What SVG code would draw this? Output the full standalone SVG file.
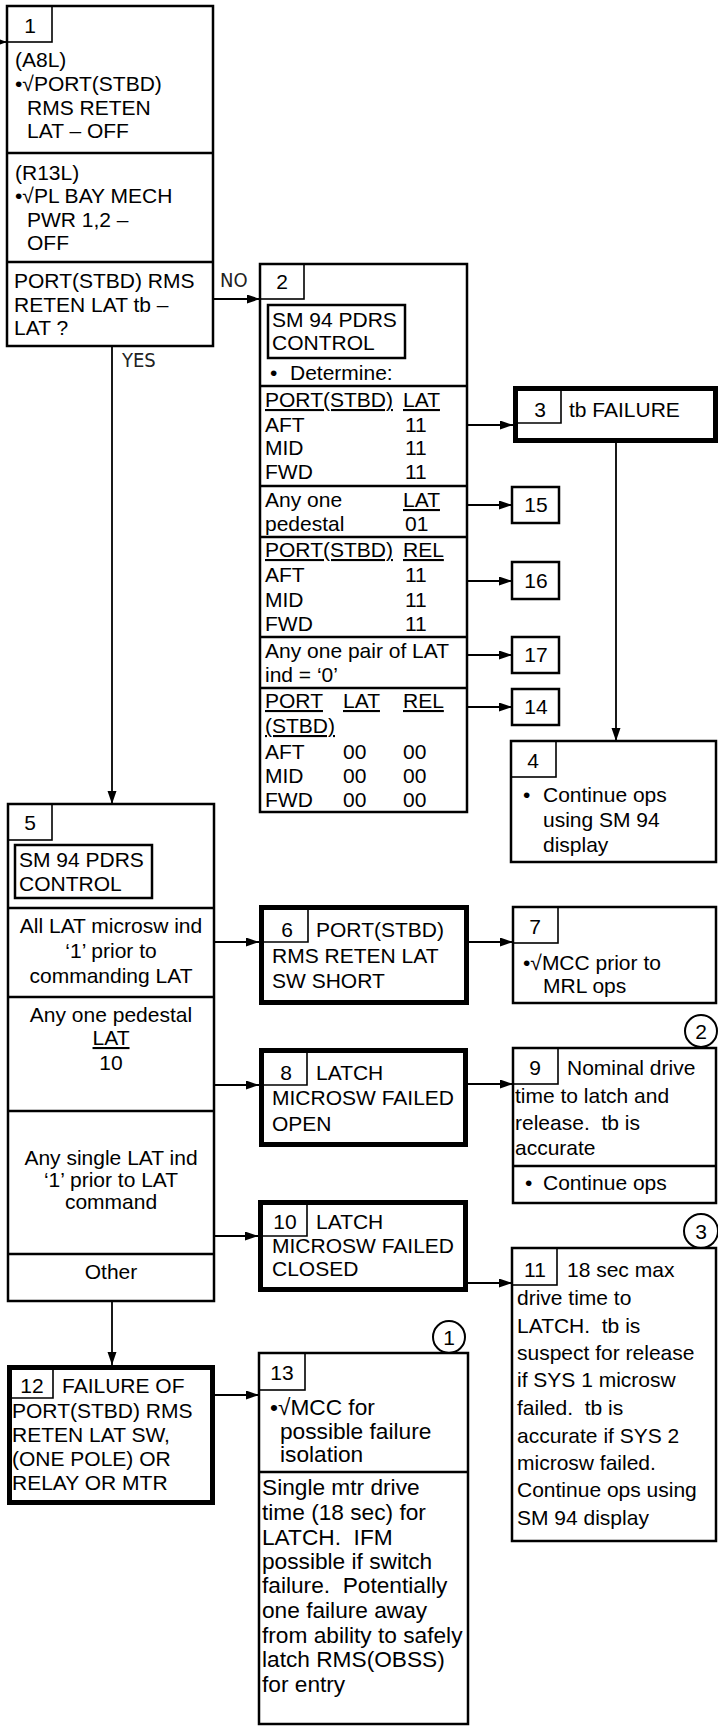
<svg xmlns="http://www.w3.org/2000/svg" width="718" height="1727" viewBox="0 0 718 1727">
<defs>
<marker id="ah" markerUnits="userSpaceOnUse" markerWidth="14" markerHeight="10" refX="13" refY="4.5" orient="auto">
<path d="M0,0 L13,4.5 L0,9 z" fill="#000"/>
</marker>
<style>
.b{fill:#fff;stroke:#000;stroke-width:2.5}
.tk{fill:#fff;stroke:#000;stroke-width:5}
.nb{fill:none;stroke:#000;stroke-width:1.6}
.dv{stroke:#000;stroke-width:2.5}
.ci{fill:#fff;stroke:#000;stroke-width:2}
text{font-family:"Liberation Sans",Arial,sans-serif;font-size:21px;fill:#000}
.c{text-anchor:middle}
.u{text-decoration:underline}
.big{font-size:22.7px}
.yn{font-family:"DejaVu Sans Condensed","DejaVu Sans",sans-serif;font-stretch:condensed;font-size:20px;fill:#222}
.cn{stroke:#000;stroke-width:1.8;fill:none;marker-end:url(#ah)}
</style>
</defs>
<rect width="718" height="1727" fill="#fff"/>

<g id="node1">
<rect class="b" x="7" y="6" width="206" height="340"/>
<rect class="nb" x="7" y="6" width="45" height="36"/>
<text class="c" x="30" y="33">1</text>
<text x="15" y="67">(A8L)</text>
<text x="15" y="91">•√PORT(STBD)</text>
<text x="27" y="115">RMS RETEN</text>
<text x="27" y="138">LAT – OFF</text>
<line class="dv" x1="7" y1="153" x2="213" y2="153"/>
<text x="15" y="180">(R13L)</text>
<text x="15" y="203">•√PL BAY MECH</text>
<text x="27" y="227">PWR 1,2 –</text>
<text x="27" y="250">OFF</text>
<line class="dv" x1="7" y1="262" x2="213" y2="262"/>
<text x="14" y="288">PORT(STBD) RMS</text>
<text x="14" y="312">RETEN LAT tb –</text>
<text x="14" y="335">LAT ?</text>
</g>

<g id="node2">
<rect class="b" x="260" y="264" width="207" height="548"/>
<rect class="nb" x="260" y="264" width="44" height="35"/>
<text class="c" x="282" y="289">2</text>
<rect class="b" x="268" y="305" width="137" height="53"/>
<text x="272" y="327">SM 94 PDRS</text>
<text x="272" y="350">CONTROL</text>
<text x="270" y="380">•</text>
<text x="290" y="380">Determine:</text>
<line class="dv" x1="260" y1="386" x2="467" y2="386"/>
<text class="u" x="265" y="407">PORT(STBD)</text>
<text class="u" x="403" y="407">LAT</text>
<text x="265" y="432">AFT</text><text x="405" y="432">11</text>
<text x="265" y="455">MID</text><text x="405" y="455">11</text>
<text x="265" y="479">FWD</text><text x="405" y="479">11</text>
<line class="dv" x1="260" y1="486" x2="467" y2="486"/>
<text x="265" y="507">Any one</text>
<text class="u" x="403" y="507">LAT</text>
<text x="265" y="531">pedestal</text><text x="405" y="531">01</text>
<line class="dv" x1="260" y1="537" x2="467" y2="537"/>
<text class="u" x="265" y="557">PORT(STBD)</text>
<text class="u" x="403" y="557">REL</text>
<text x="265" y="582">AFT</text><text x="405" y="582">11</text>
<text x="265" y="607">MID</text><text x="405" y="607">11</text>
<text x="265" y="631">FWD</text><text x="405" y="631">11</text>
<line class="dv" x1="260" y1="637" x2="467" y2="637"/>
<text x="265" y="658">Any one pair of LAT</text>
<text x="265" y="682">ind = ‘0’</text>
<line class="dv" x1="260" y1="688" x2="467" y2="688"/>
<text class="u" x="265" y="708">PORT</text>
<text class="u" x="343" y="708">LAT</text>
<text class="u" x="403" y="708">REL</text>
<text class="u" x="265" y="733">(STBD)</text>
<text x="265" y="759">AFT</text><text x="343" y="759">00</text><text x="403" y="759">00</text>
<text x="265" y="783">MID</text><text x="343" y="783">00</text><text x="403" y="783">00</text>
<text x="265" y="807">FWD</text><text x="343" y="807">00</text><text x="403" y="807">00</text>
</g>

<g id="node3">
<rect class="tk" x="515.5" y="388.5" width="200" height="52"/>
<path class="nb" d="M518,423 H561 V391"/>
<text class="c" x="540" y="417">3</text>
<text x="569" y="417">tb FAILURE</text>
</g>

<g id="node15">
<rect class="b" x="512" y="487" width="47" height="36"/>
<text class="c" x="536" y="512">15</text>
</g>
<g id="node16">
<rect class="b" x="512" y="562" width="47" height="37"/>
<text class="c" x="536" y="588">16</text>
</g>
<g id="node17">
<rect class="b" x="512" y="637" width="47" height="36"/>
<text class="c" x="536" y="662">17</text>
</g>
<g id="node14">
<rect class="b" x="512" y="689" width="47" height="36"/>
<text class="c" x="536" y="714">14</text>
</g>

<g id="node4">
<rect class="b" x="511" y="741" width="205" height="121"/>
<rect class="nb" x="511" y="741" width="45" height="36"/>
<text class="c" x="533" y="768">4</text>
<text x="523" y="802">•</text>
<text x="543" y="802">Continue ops</text>
<text x="543" y="827">using SM 94</text>
<text x="543" y="852">display</text>
</g>

<g id="node5">
<rect class="b" x="8" y="804" width="206" height="497"/>
<rect class="nb" x="8" y="804" width="44" height="36"/>
<text class="c" x="30" y="830">5</text>
<rect class="b" x="15" y="845" width="137" height="53"/>
<text x="19" y="867">SM 94 PDRS</text>
<text x="19" y="891">CONTROL</text>
<line class="dv" x1="8" y1="908" x2="214" y2="908"/>
<text class="c" x="111" y="933">All LAT microsw ind</text>
<text class="c" x="111" y="958">‘1’ prior to</text>
<text class="c" x="111" y="983">commanding LAT</text>
<line class="dv" x1="8" y1="997" x2="214" y2="997"/>
<text class="c" x="111" y="1022">Any one pedestal</text>
<text class="c u" x="111" y="1045">LAT</text>
<text class="c" x="111" y="1070">10</text>
<line class="dv" x1="8" y1="1111" x2="214" y2="1111"/>
<text class="c" x="111" y="1165">Any single LAT ind</text>
<text class="c" x="111" y="1187">‘1’ prior to LAT</text>
<text class="c" x="111" y="1209">command</text>
<line class="dv" x1="8" y1="1254" x2="214" y2="1254"/>
<text class="c" x="111" y="1279">Other</text>
</g>

<g id="node6">
<rect class="tk" x="261.5" y="907.5" width="205" height="95"/>
<path class="nb" d="M264,942 H308 V910"/>
<text class="c" x="287" y="937">6</text>
<text x="316" y="937">PORT(STBD)</text>
<text x="272" y="963">RMS RETEN LAT</text>
<text x="272" y="988">SW SHORT</text>
</g>

<g id="node7">
<rect class="b" x="513" y="907" width="203" height="96"/>
<rect class="nb" x="513" y="907" width="45" height="36"/>
<text class="c" x="535" y="934">7</text>
<text x="523" y="970">•√MCC prior to</text>
<text x="543" y="993">MRL ops</text>
</g>

<g id="circle2">
<circle class="ci" cx="701" cy="1031" r="16"/>
<text class="c" x="701" y="1039">2</text>
</g>

<g id="node8">
<rect class="tk" x="261.5" y="1050.5" width="204" height="94"/>
<path class="nb" d="M264,1085 H307 V1053"/>
<text class="c" x="286" y="1080">8</text>
<text x="316" y="1080">LATCH</text>
<text x="272" y="1105">MICROSW FAILED</text>
<text x="272" y="1131">OPEN</text>
</g>

<g id="node9">
<rect class="b" x="513" y="1048" width="203" height="155"/>
<rect class="nb" x="513" y="1048" width="45" height="36"/>
<text class="c" x="535" y="1075">9</text>
<text x="567" y="1075">Nominal drive</text>
<text x="515" y="1103">time to latch and</text>
<text x="515" y="1130" xml:space="preserve">release.  tb is</text>
<text x="515" y="1155">accurate</text>
<line class="dv" x1="513" y1="1166" x2="716" y2="1166"/>
<text x="525" y="1190">•</text>
<text x="543" y="1190">Continue ops</text>
</g>

<g id="node10">
<rect class="tk" x="260.5" y="1202.5" width="205" height="87"/>
<path class="nb" d="M263,1236 H307 V1205"/>
<text class="c" x="285" y="1229">10</text>
<text x="316" y="1229">LATCH</text>
<text x="272" y="1253">MICROSW FAILED</text>
<text x="272" y="1276">CLOSED</text>
</g>

<g id="circle3">
<circle class="ci" cx="701" cy="1231" r="17"/>
<text class="c" x="701" y="1239">3</text>
</g>

<g id="node11">
<rect class="b" x="512" y="1248" width="204" height="293"/>
<rect class="nb" x="512" y="1248" width="45" height="37"/>
<text class="c" x="535" y="1277">11</text>
<text x="567" y="1277">18 sec max</text>
<text x="517" y="1305">drive time to</text>
<text x="517" y="1333" xml:space="preserve">LATCH.  tb is</text>
<text x="517" y="1360">suspect for release</text>
<text x="517" y="1387">if SYS 1 microsw</text>
<text x="517" y="1415" xml:space="preserve">failed.  tb is</text>
<text x="517" y="1443">accurate if SYS 2</text>
<text x="517" y="1470">microsw failed.</text>
<text x="517" y="1497">Continue ops using</text>
<text x="517" y="1525">SM 94 display</text>
</g>

<g id="node12">
<rect class="tk" x="9.5" y="1367.5" width="203" height="135"/>
<path class="nb" d="M12,1398 H53 V1370"/>
<text class="c" x="32" y="1393">12</text>
<text x="62" y="1393">FAILURE OF</text>
<text x="12" y="1418">PORT(STBD) RMS</text>
<text x="12" y="1442">RETEN LAT SW,</text>
<text x="12" y="1466">(ONE POLE) OR</text>
<text x="12" y="1490">RELAY OR MTR</text>
</g>

<g id="circle1">
<circle class="ci" cx="449" cy="1337" r="16"/>
<text class="c" x="449" y="1345">1</text>
</g>

<g id="node13">
<rect class="b" x="259" y="1353" width="209" height="371"/>
<rect class="nb" x="259" y="1353" width="46" height="37"/>
<text class="c" x="282" y="1380">13</text>
<text class="big" x="270" y="1415">•√MCC for</text>
<text class="big" x="280" y="1439">possible failure</text>
<text class="big" x="280" y="1462">isolation</text>
<line class="dv" x1="259" y1="1472" x2="468" y2="1472"/>
<text class="big" x="262" y="1495">Single mtr drive</text>
<text class="big" x="262" y="1520">time (18 sec) for</text>
<text class="big" x="262" y="1545" xml:space="preserve">LATCH.  IFM</text>
<text class="big" x="262" y="1569">possible if switch</text>
<text class="big" x="262" y="1593" xml:space="preserve">failure.  Potentially</text>
<text class="big" x="262" y="1618">one failure away</text>
<text class="big" x="262" y="1643">from ability to safely</text>
<text class="big" x="262" y="1667">latch RMS(OBSS)</text>
<text class="big" x="262" y="1692">for entry</text>
</g>

<g id="connectors">
<path class="cn" d="M-8,42 H7"/>
<path class="cn" d="M214,299 H260"/>
<path class="cn" d="M112,347 V804"/>
<path class="cn" d="M467,425 H513"/>
<path class="cn" d="M467,505 H512"/>
<path class="cn" d="M467,581 H512"/>
<path class="cn" d="M467,655 H512"/>
<path class="cn" d="M467,707 H512"/>
<path class="cn" d="M616,443 V741"/>
<path class="cn" d="M214,942 H259"/>
<path class="cn" d="M214,1085 H259"/>
<path class="cn" d="M214,1236 H258"/>
<path class="cn" d="M112,1301 V1365"/>
<path class="cn" d="M469,942 H513"/>
<path class="cn" d="M468,1084 H513"/>
<path class="cn" d="M468,1283 H512"/>
<path class="cn" d="M215,1395 H259"/>
<text class="yn" x="220" y="287">NO</text>
<text class="yn" x="122" y="367">YES</text>
</g>
</svg>
